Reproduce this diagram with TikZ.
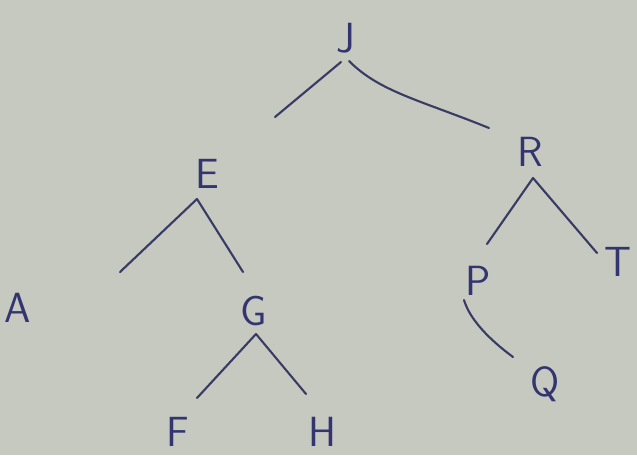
\documentclass[tikz,border=0pt]{standalone}
\definecolor{paper}{RGB}{197,201,191}
\definecolor{ink}{RGB}{52,52,112}
\definecolor{lineink}{RGB}{58,58,100}
\tikzset{
  letter/.style={text=ink, font=\sffamily\fontsize{60}{60}\selectfont, inner sep=0pt},
  edge/.style={draw=lineink, line width=3pt, line cap=round}
}
\begin{document}
\begin{tikzpicture}[x=0.05cm, y=-0.05cm]
\fill[paper] (0,0) rectangle (637,455);
\useasboundingbox (0,0) rectangle (637,455);
% letters
\node[letter] (J) at (346,38) {J};
\node[letter] (E) at (207,174) {E};
\node[letter] (R) at (530,152) {R};
\node[letter] (A) at (18,308) {A};
\node[letter] (G) at (254,311) {G};
\node[letter] (P) at (478,281) {P};
\node[letter] (T) at (618,262) {T};
\node[letter] (F) at (178,432) {F};
\node[letter] (H) at (322,432) {H};
\node[letter] (Q) at (545,384) {Q};
% branch points and free ends
\coordinate (jl) at (341,62);
\coordinate (jr) at (349,61);
\coordinate (jle) at (275,117);
\coordinate (jre) at (489,128);
\coordinate (ea) at (197,199);
\coordinate (ele) at (120,272);
\coordinate (ere) at (243,272);
\coordinate (ra) at (533,178);
\coordinate (rle) at (487,244);
\coordinate (rre) at (597,253);
\coordinate (ga) at (256,334);
\coordinate (gle) at (197,398);
\coordinate (gre) at (306,394);
\coordinate (pa) at (464,300);
\coordinate (pe) at (513,357);
% connectors
\draw[edge] (jl) -- (jle);
\draw[edge] (jr) .. controls (380,92) and (420,100) .. (jre);
\draw[edge] (ea) -- (ele);
\draw[edge] (ea) -- (ere);
\draw[edge] (ra) -- (rle);
\draw[edge] (ra) -- (rre);
\draw[edge] (ga) -- (gle);
\draw[edge] (ga) -- (gre);
\draw[edge] (pa) .. controls (470,320) and (490,340) .. (pe);
\end{tikzpicture}
\end{document}
